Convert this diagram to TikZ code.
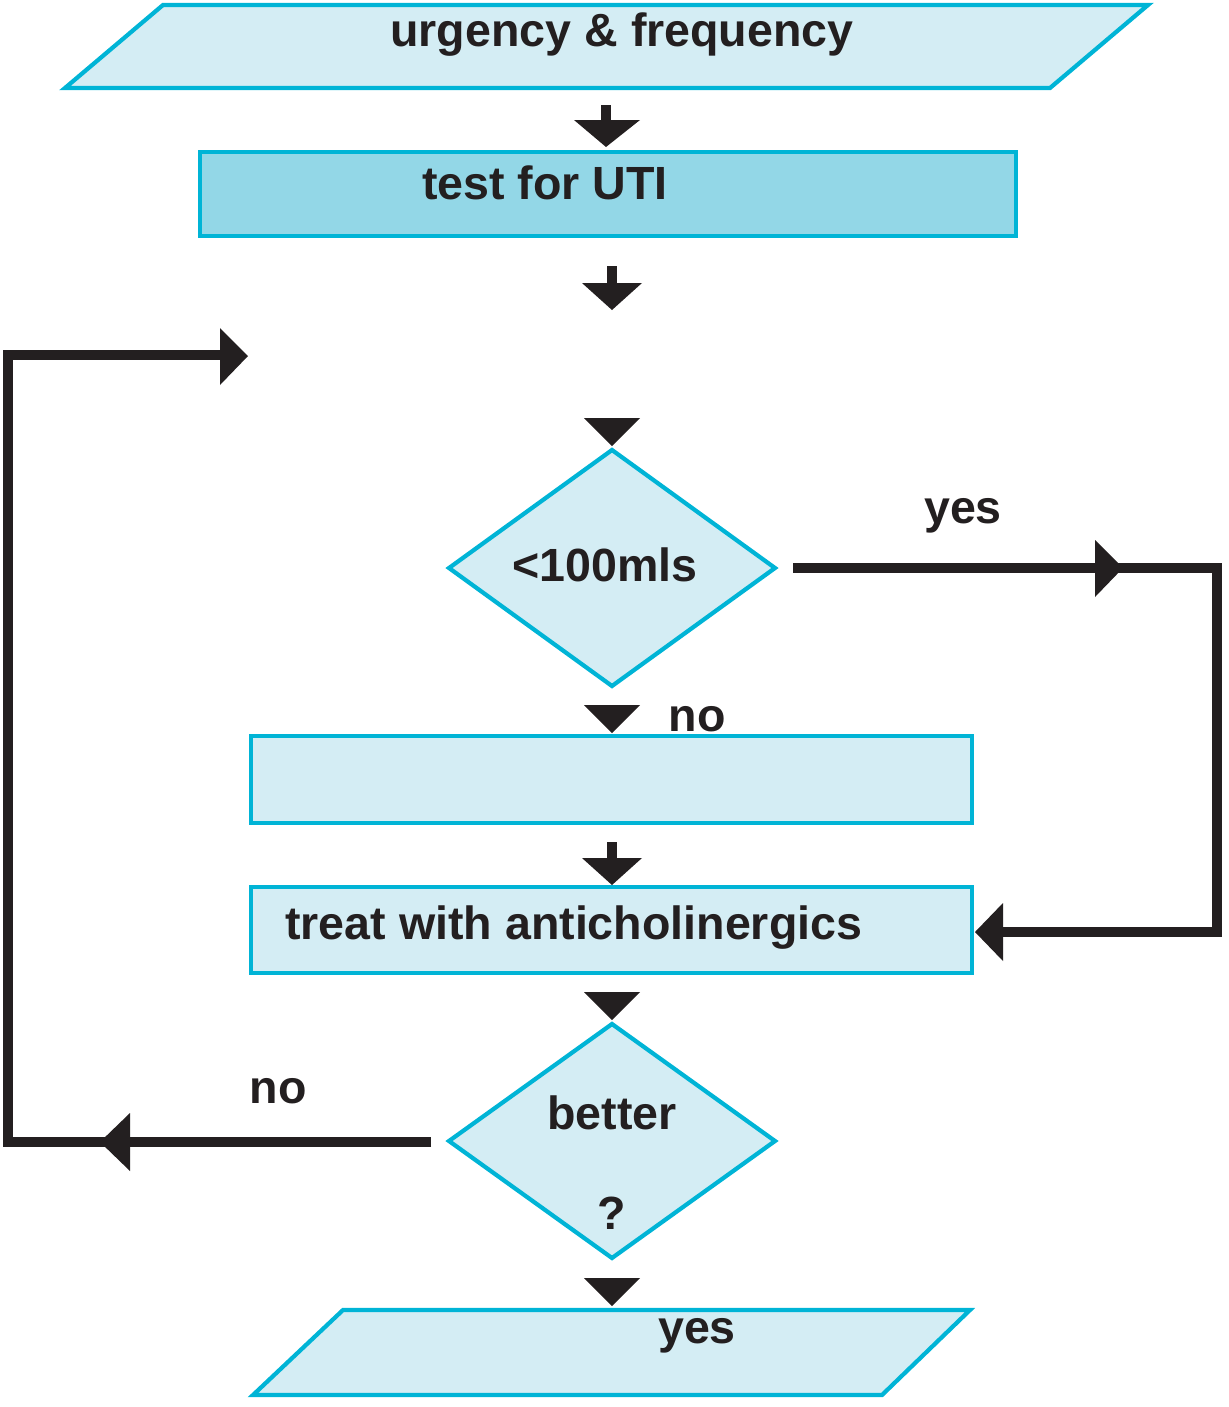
\documentclass[tikz,border=0pt]{standalone}
\usepackage{fontspec}
\setmainfont{Liberation Sans}
\usetikzlibrary{arrows.meta}
\definecolor{bord}{HTML}{00B4D6}
\definecolor{lfill}{HTML}{D4EDF4}
\definecolor{dfill}{HTML}{93D7E7}
\definecolor{ink}{HTML}{231F20}
\begin{document}
\begin{tikzpicture}[x=0.02cm,y=-0.02cm,
  shp/.style={draw=bord,line width=2.4pt,fill=lfill},
  txt/.style={font=\bfseries\fontsize{26.5}{30}\selectfont,text=ink,inner sep=0pt},
  tri/.style={fill=ink},
  flow/.style={draw=ink,line width=5.3pt,line join=miter}]
\useasboundingbox (0,0) rectangle (1228,1407);
% shapes
\draw[shp] (65,88) -- (163,5) -- (1148,5) -- (1050,88) -- cycle;
\node[txt] (t1) at (622,35) {urgency \& frequency};
\draw[shp,fill=dfill] (200,152) rectangle (1016,236);
\node[txt] (t2) at (545,183) {test for UTI};
\draw[shp] (449,568) -- (612,450) -- (775,568) -- (612,686) -- cycle;
\node[txt] (t3) at (605,565) {<100mls};
\draw[shp] (251,736) rectangle (972,823);
\draw[shp] (251,887) rectangle (972,973);
\node[txt,anchor=west] (t4) at (285,928) {treat with anticholinergics};
\draw[shp] (449,1141) -- (612,1024) -- (775,1141) -- (612,1258) -- cycle;
\node[txt] (t5) at (612,1113) {better};
\node[txt] (t6) at (612,1213) {?};
\node[txt] (t8) at (963,516) {yes};
\node[txt] (t9) at (697,719) {no};
\node[txt] (t10) at (278,1091) {no};
\draw[shp] (253,1395) -- (343,1310) -- (970,1310) -- (882,1395) -- cycle;
\node[txt] (t7) at (697,1336) {yes};
% arrow heads
\draw[flow] (606,105) -- (606,122);
\fill[tri] (574,120) -- (640,120) -- (606,147) -- cycle;
\draw[flow] (612,266) -- (612,285);
\fill[tri] (582,283) -- (642,283) -- (612,310) -- cycle;
\fill[tri] (584,418) -- (640,418) -- (612,446) -- cycle;
\fill[tri] (584,705) -- (640,705) -- (612,733) -- cycle;
\draw[flow] (612,842) -- (612,860);
\fill[tri] (582,858) -- (642,858) -- (612,885) -- cycle;
\fill[tri] (584,992) -- (640,992) -- (612,1020) -- cycle;
\fill[tri] (584,1278) -- (640,1278) -- (612,1306) -- cycle;
% loops
\draw[flow] (431,1142) -- (8,1142) -- (8,355) -- (222,355);
\fill[tri] (220,328) -- (248,356) -- (220,385) -- cycle;
\fill[tri] (130,1113) -- (100,1142) -- (130,1171) -- cycle;
\draw[flow] (793,568) -- (1217,568) -- (1217,932) -- (998,932);
\fill[tri] (1095,540) -- (1123,568) -- (1095,597) -- cycle;
\fill[tri] (1003,903) -- (975,932) -- (1003,961) -- cycle;
\end{tikzpicture}
\end{document}
